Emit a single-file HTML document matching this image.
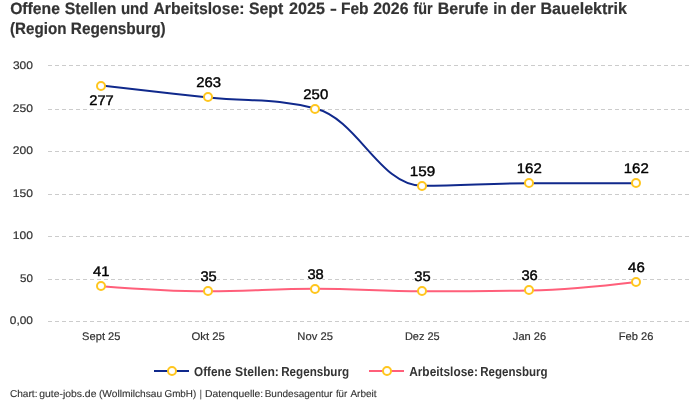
<!DOCTYPE html>
<html><head><meta charset="utf-8"><title>Chart</title><style>
html,body{margin:0;padding:0;background:#fff}body{width:700px;height:400px;overflow:hidden;font-family:"Liberation Sans",sans-serif}svg{display:block;will-change:transform}text{font-family:"Liberation Sans",sans-serif;white-space:pre;text-rendering:geometricPrecision}
</style></head><body>
<svg width="700" height="400" viewBox="0 0 700 400">
<line x1="48" x2="690" y1="321.5" y2="321.5" stroke="#cccccc" stroke-width="1" stroke-dasharray="4 3"/>
<line x1="48" x2="690" y1="279.5" y2="279.5" stroke="#cccccc" stroke-width="1" stroke-dasharray="4 3"/>
<line x1="48" x2="690" y1="236.5" y2="236.5" stroke="#cccccc" stroke-width="1" stroke-dasharray="4 3"/>
<line x1="48" x2="690" y1="194.5" y2="194.5" stroke="#cccccc" stroke-width="1" stroke-dasharray="4 3"/>
<line x1="48" x2="690" y1="151.5" y2="151.5" stroke="#cccccc" stroke-width="1" stroke-dasharray="4 3"/>
<line x1="48" x2="690" y1="109.5" y2="109.5" stroke="#cccccc" stroke-width="1" stroke-dasharray="4 3"/>
<line x1="48" x2="690" y1="65.5" y2="65.5" stroke="#cccccc" stroke-width="1" stroke-dasharray="4 3"/>
<path d="M101.500 85.550 C101.500 85.550 165.700 92.860 208.500 97.450 C251.300 102.040 272.700 97.450 315.500 108.500 C358.300 119.550 379.700 185.850 422.500 185.850 C465.300 185.850 486.700 183.300 529.500 183.300 C572.300 183.300 636.500 183.300 636.500 183.300" fill="none" stroke="#10298c" stroke-width="2" stroke-linecap="round" stroke-linejoin="round"/>
<path d="M101.500 286.150 C101.500 286.150 165.700 291.250 208.500 291.250 C251.300 291.250 272.700 288.700 315.500 288.700 C358.300 288.700 379.700 291.250 422.500 291.250 C465.300 291.250 486.700 291.250 529.500 290.400 C572.300 289.550 636.500 281.900 636.500 281.900" fill="none" stroke="#ff5f7a" stroke-width="2" stroke-linecap="round" stroke-linejoin="round"/>
<circle cx="101" cy="86" r="4" fill="#fff" stroke="#ffc61e" stroke-width="2"/>
<circle cx="208" cy="97" r="4" fill="#fff" stroke="#ffc61e" stroke-width="2"/>
<circle cx="315" cy="109" r="4" fill="#fff" stroke="#ffc61e" stroke-width="2"/>
<circle cx="422" cy="186" r="4" fill="#fff" stroke="#ffc61e" stroke-width="2"/>
<circle cx="529" cy="183" r="4" fill="#fff" stroke="#ffc61e" stroke-width="2"/>
<circle cx="636" cy="183" r="4" fill="#fff" stroke="#ffc61e" stroke-width="2"/>
<circle cx="101" cy="286" r="4" fill="#fff" stroke="#ffc61e" stroke-width="2"/>
<circle cx="208" cy="291" r="4" fill="#fff" stroke="#ffc61e" stroke-width="2"/>
<circle cx="315" cy="289" r="4" fill="#fff" stroke="#ffc61e" stroke-width="2"/>
<circle cx="422" cy="291" r="4" fill="#fff" stroke="#ffc61e" stroke-width="2"/>
<circle cx="529" cy="290" r="4" fill="#fff" stroke="#ffc61e" stroke-width="2"/>
<circle cx="636" cy="282" r="4" fill="#fff" stroke="#ffc61e" stroke-width="2"/>
<line x1="154" x2="189" y1="371" y2="371" stroke="#10298c" stroke-width="2"/>
<circle cx="172" cy="371" r="4" fill="#fff" stroke="#ffc61e" stroke-width="2"/>
<line x1="369" x2="404" y1="371" y2="371" stroke="#ff5f7a" stroke-width="2"/>
<circle cx="387" cy="371" r="4" fill="#fff" stroke="#ffc61e" stroke-width="2"/>
<text transform="translate(10.136 14.350) scale(0.9824 1.025)" font-size="16" font-weight="bold" fill="#333333" stroke="#333333" stroke-width="0.2">Offene</text>
<text transform="translate(64.630 14.350) scale(0.9878 1.025)" font-size="16" font-weight="bold" fill="#333333" stroke="#333333" stroke-width="0.2">Stellen</text>
<text transform="translate(120.931 14.350) scale(0.9364 1.025)" font-size="16" font-weight="bold" fill="#333333" stroke="#333333" stroke-width="0.2">und</text>
<text transform="translate(153.504 14.350) scale(0.9835 1.025)" font-size="16" font-weight="bold" fill="#333333" stroke="#333333" stroke-width="0.2">Arbeitslose:</text>
<text transform="translate(248.879 14.350) scale(0.9890 1.025)" font-size="16" font-weight="bold" fill="#333333" stroke="#333333" stroke-width="0.2">Sept</text>
<text transform="translate(288.996 14.350) scale(1.0072 1.025)" font-size="16" font-weight="bold" fill="#333333" stroke="#333333" stroke-width="0.2">2025</text>
<text transform="translate(330.103 14.350) scale(1.2941 1.025)" font-size="16" font-weight="bold" fill="#333333" stroke="#333333" stroke-width="0.2">-</text>
<text transform="translate(341.033 14.350) scale(0.9674 1.025)" font-size="16" font-weight="bold" fill="#333333" stroke="#333333" stroke-width="0.2">Feb</text>
<text transform="translate(373.255 14.350) scale(0.9892 1.025)" font-size="16" font-weight="bold" fill="#333333" stroke="#333333" stroke-width="0.2">2026</text>
<text transform="translate(413.525 14.350) scale(0.8982 1.025)" font-size="16" font-weight="bold" fill="#333333" stroke="#333333" stroke-width="0.2">für</text>
<text transform="translate(437.750 14.350) scale(1.0000 1.025)" font-size="16" font-weight="bold" fill="#333333" stroke="#333333" stroke-width="0.2">Berufe</text>
<text transform="translate(493.311 14.350) scale(0.9388 1.025)" font-size="16" font-weight="bold" fill="#333333" stroke="#333333" stroke-width="0.2">in</text>
<text transform="translate(510.622 14.350) scale(1.0052 1.025)" font-size="16" font-weight="bold" fill="#333333" stroke="#333333" stroke-width="0.2">der</text>
<text transform="translate(540.499 14.350) scale(1.0015 1.025)" font-size="16" font-weight="bold" fill="#333333" stroke="#333333" stroke-width="0.2">Bauelektrik</text>
<text transform="translate(10.040 33.500) scale(0.9460 1.025)" font-size="16" font-weight="bold" fill="#333333" stroke="#333333" stroke-width="0.2">(Region</text>
<text transform="translate(70.789 33.500) scale(0.9613 1.025)" font-size="16" font-weight="bold" fill="#333333" stroke="#333333" stroke-width="0.2">Regensburg)</text>
<text transform="translate(9.845 324.000) scale(1.0788 1)" font-size="11" font-weight="normal" fill="#333333" stroke="#333333" stroke-width="0.2">0,00</text>
<text transform="translate(20.005 281.500) scale(1.0522 1)" font-size="11" font-weight="normal" fill="#333333" stroke="#333333" stroke-width="0.2">50</text>
<text transform="translate(12.778 239.000) scale(1.0957 1)" font-size="11" font-weight="normal" fill="#333333" stroke="#333333" stroke-width="0.2">100</text>
<text transform="translate(12.778 196.500) scale(1.0957 1)" font-size="11" font-weight="normal" fill="#333333" stroke="#333333" stroke-width="0.2">150</text>
<text transform="translate(12.751 154.000) scale(1.0971 1)" font-size="11" font-weight="normal" fill="#333333" stroke="#333333" stroke-width="0.2">200</text>
<text transform="translate(12.751 111.500) scale(1.0971 1)" font-size="11" font-weight="normal" fill="#333333" stroke="#333333" stroke-width="0.2">250</text>
<text transform="translate(12.891 69.000) scale(1.0894 1)" font-size="11" font-weight="normal" fill="#333333" stroke="#333333" stroke-width="0.2">300</text>
<text transform="translate(82.121 339.800) scale(1.0101 1)" font-size="11" font-weight="normal" fill="#333333" stroke="#333333" stroke-width="0.2">Sept 25</text>
<text transform="translate(191.484 339.800) scale(1.0317 1)" font-size="11" font-weight="normal" fill="#333333" stroke="#333333" stroke-width="0.2">Okt 25</text>
<text transform="translate(297.359 339.800) scale(1.0186 1)" font-size="11" font-weight="normal" fill="#333333" stroke="#333333" stroke-width="0.2">Nov 25</text>
<text transform="translate(404.878 339.800) scale(0.9963 1)" font-size="11" font-weight="normal" fill="#333333" stroke="#333333" stroke-width="0.2">Dez 25</text>
<text transform="translate(512.874 339.800) scale(1.0077 1)" font-size="11" font-weight="normal" fill="#333333" stroke="#333333" stroke-width="0.2">Jan 26</text>
<text transform="translate(618.814 339.800) scale(1.0121 1)" font-size="11" font-weight="normal" fill="#333333" stroke="#333333" stroke-width="0.2">Feb 26</text>
<text transform="translate(89.224 105.000) scale(1.0525 1)" font-size="14" font-weight="normal" fill="#fff" stroke="#fff" stroke-width="2.2" stroke-linejoin="round">277</text>
<text transform="translate(89.224 105.000) scale(1.0525 1)" font-size="14" font-weight="normal" fill="#000000" stroke="#000000" stroke-width="0.4" stroke-linejoin="round">277</text>
<text transform="translate(196.168 87.000) scale(1.0637 1)" font-size="14" font-weight="normal" fill="#fff" stroke="#fff" stroke-width="2.2" stroke-linejoin="round">263</text>
<text transform="translate(196.168 87.000) scale(1.0637 1)" font-size="14" font-weight="normal" fill="#000000" stroke="#000000" stroke-width="0.4" stroke-linejoin="round">263</text>
<text transform="translate(303.267 99.000) scale(1.0667 1)" font-size="14" font-weight="normal" fill="#fff" stroke="#fff" stroke-width="2.2" stroke-linejoin="round">250</text>
<text transform="translate(303.267 99.000) scale(1.0667 1)" font-size="14" font-weight="normal" fill="#000000" stroke="#000000" stroke-width="0.4" stroke-linejoin="round">250</text>
<text transform="translate(409.849 176.000) scale(1.0864 1)" font-size="14" font-weight="normal" fill="#fff" stroke="#fff" stroke-width="2.2" stroke-linejoin="round">159</text>
<text transform="translate(409.849 176.000) scale(1.0864 1)" font-size="14" font-weight="normal" fill="#000000" stroke="#000000" stroke-width="0.4" stroke-linejoin="round">159</text>
<text transform="translate(516.761 173.000) scale(1.0727 1)" font-size="14" font-weight="normal" fill="#fff" stroke="#fff" stroke-width="2.2" stroke-linejoin="round">162</text>
<text transform="translate(516.761 173.000) scale(1.0727 1)" font-size="14" font-weight="normal" fill="#000000" stroke="#000000" stroke-width="0.4" stroke-linejoin="round">162</text>
<text transform="translate(623.761 173.000) scale(1.0727 1)" font-size="14" font-weight="normal" fill="#fff" stroke="#fff" stroke-width="2.2" stroke-linejoin="round">162</text>
<text transform="translate(623.761 173.000) scale(1.0727 1)" font-size="14" font-weight="normal" fill="#000000" stroke="#000000" stroke-width="0.4" stroke-linejoin="round">162</text>
<text transform="translate(93.068 276.000) scale(1.0533 1)" font-size="14" font-weight="normal" fill="#fff" stroke="#fff" stroke-width="2.2" stroke-linejoin="round">41</text>
<text transform="translate(93.068 276.000) scale(1.0533 1)" font-size="14" font-weight="normal" fill="#000000" stroke="#000000" stroke-width="0.4" stroke-linejoin="round">41</text>
<text transform="translate(200.406 281.000) scale(1.0508 1)" font-size="14" font-weight="normal" fill="#fff" stroke="#fff" stroke-width="2.2" stroke-linejoin="round">35</text>
<text transform="translate(200.406 281.000) scale(1.0508 1)" font-size="14" font-weight="normal" fill="#000000" stroke="#000000" stroke-width="0.4" stroke-linejoin="round">35</text>
<text transform="translate(307.406 279.000) scale(1.0508 1)" font-size="14" font-weight="normal" fill="#fff" stroke="#fff" stroke-width="2.2" stroke-linejoin="round">38</text>
<text transform="translate(307.406 279.000) scale(1.0508 1)" font-size="14" font-weight="normal" fill="#000000" stroke="#000000" stroke-width="0.4" stroke-linejoin="round">38</text>
<text transform="translate(414.306 281.000) scale(1.0508 1)" font-size="14" font-weight="normal" fill="#fff" stroke="#fff" stroke-width="2.2" stroke-linejoin="round">35</text>
<text transform="translate(414.306 281.000) scale(1.0508 1)" font-size="14" font-weight="normal" fill="#000000" stroke="#000000" stroke-width="0.4" stroke-linejoin="round">35</text>
<text transform="translate(521.406 280.000) scale(1.0508 1)" font-size="14" font-weight="normal" fill="#fff" stroke="#fff" stroke-width="2.2" stroke-linejoin="round">36</text>
<text transform="translate(521.406 280.000) scale(1.0508 1)" font-size="14" font-weight="normal" fill="#000000" stroke="#000000" stroke-width="0.4" stroke-linejoin="round">36</text>
<text transform="translate(628.116 272.000) scale(1.0700 1)" font-size="14" font-weight="normal" fill="#fff" stroke="#fff" stroke-width="2.2" stroke-linejoin="round">46</text>
<text transform="translate(628.116 272.000) scale(1.0700 1)" font-size="14" font-weight="normal" fill="#000000" stroke="#000000" stroke-width="0.4" stroke-linejoin="round">46</text>
<text transform="translate(194.049 375.750) scale(0.9019 1)" font-size="13" font-weight="bold" fill="#333333" >Offene</text>
<text transform="translate(235.100 375.750) scale(0.9322 1)" font-size="13" font-weight="bold" fill="#333333" >Stellen:</text>
<text transform="translate(281.217 375.750) scale(0.8944 1)" font-size="13" font-weight="bold" fill="#333333" >Regensburg</text>
<text transform="translate(409.157 375.750) scale(0.9143 1)" font-size="13" font-weight="bold" fill="#333333" >Arbeitslose:</text>
<text transform="translate(480.224 375.750) scale(0.8870 1)" font-size="13" font-weight="bold" fill="#333333" >Regensburg</text>
<text transform="translate(9.894 397.000) scale(1.0126 1)" font-size="10" font-weight="normal" fill="#333333" stroke="#333333" stroke-width="0.12">Chart:</text>
<text transform="translate(39.210 397.000) scale(1.0396 1)" font-size="10" font-weight="normal" fill="#333333" stroke="#333333" stroke-width="0.12">gute-jobs.de</text>
<text transform="translate(98.963 397.000) scale(1.0185 1)" font-size="10" font-weight="normal" fill="#333333" stroke="#333333" stroke-width="0.12">(Wollmilchsau</text>
<text transform="translate(164.508 397.000) scale(0.9831 1)" font-size="10" font-weight="normal" fill="#333333" stroke="#333333" stroke-width="0.12">GmbH)</text>
<text transform="translate(199.800 397.000) scale(0.8000 1)" font-size="10" font-weight="normal" fill="#333333" stroke="#333333" stroke-width="0.12">|</text>
<text transform="translate(205.022 397.000) scale(1.0367 1)" font-size="10" font-weight="normal" fill="#333333" stroke="#333333" stroke-width="0.12">Datenquelle:</text>
<text transform="translate(264.648 397.000) scale(1.0030 1)" font-size="10" font-weight="normal" fill="#333333" stroke="#333333" stroke-width="0.12">Bundesagentur</text>
<text transform="translate(335.879 397.000) scale(0.9670 1)" font-size="10" font-weight="normal" fill="#333333" stroke="#333333" stroke-width="0.12">für</text>
<text transform="translate(350.400 397.000) scale(1.0029 1)" font-size="10" font-weight="normal" fill="#333333" stroke="#333333" stroke-width="0.12">Arbeit</text>
</svg></body></html>
